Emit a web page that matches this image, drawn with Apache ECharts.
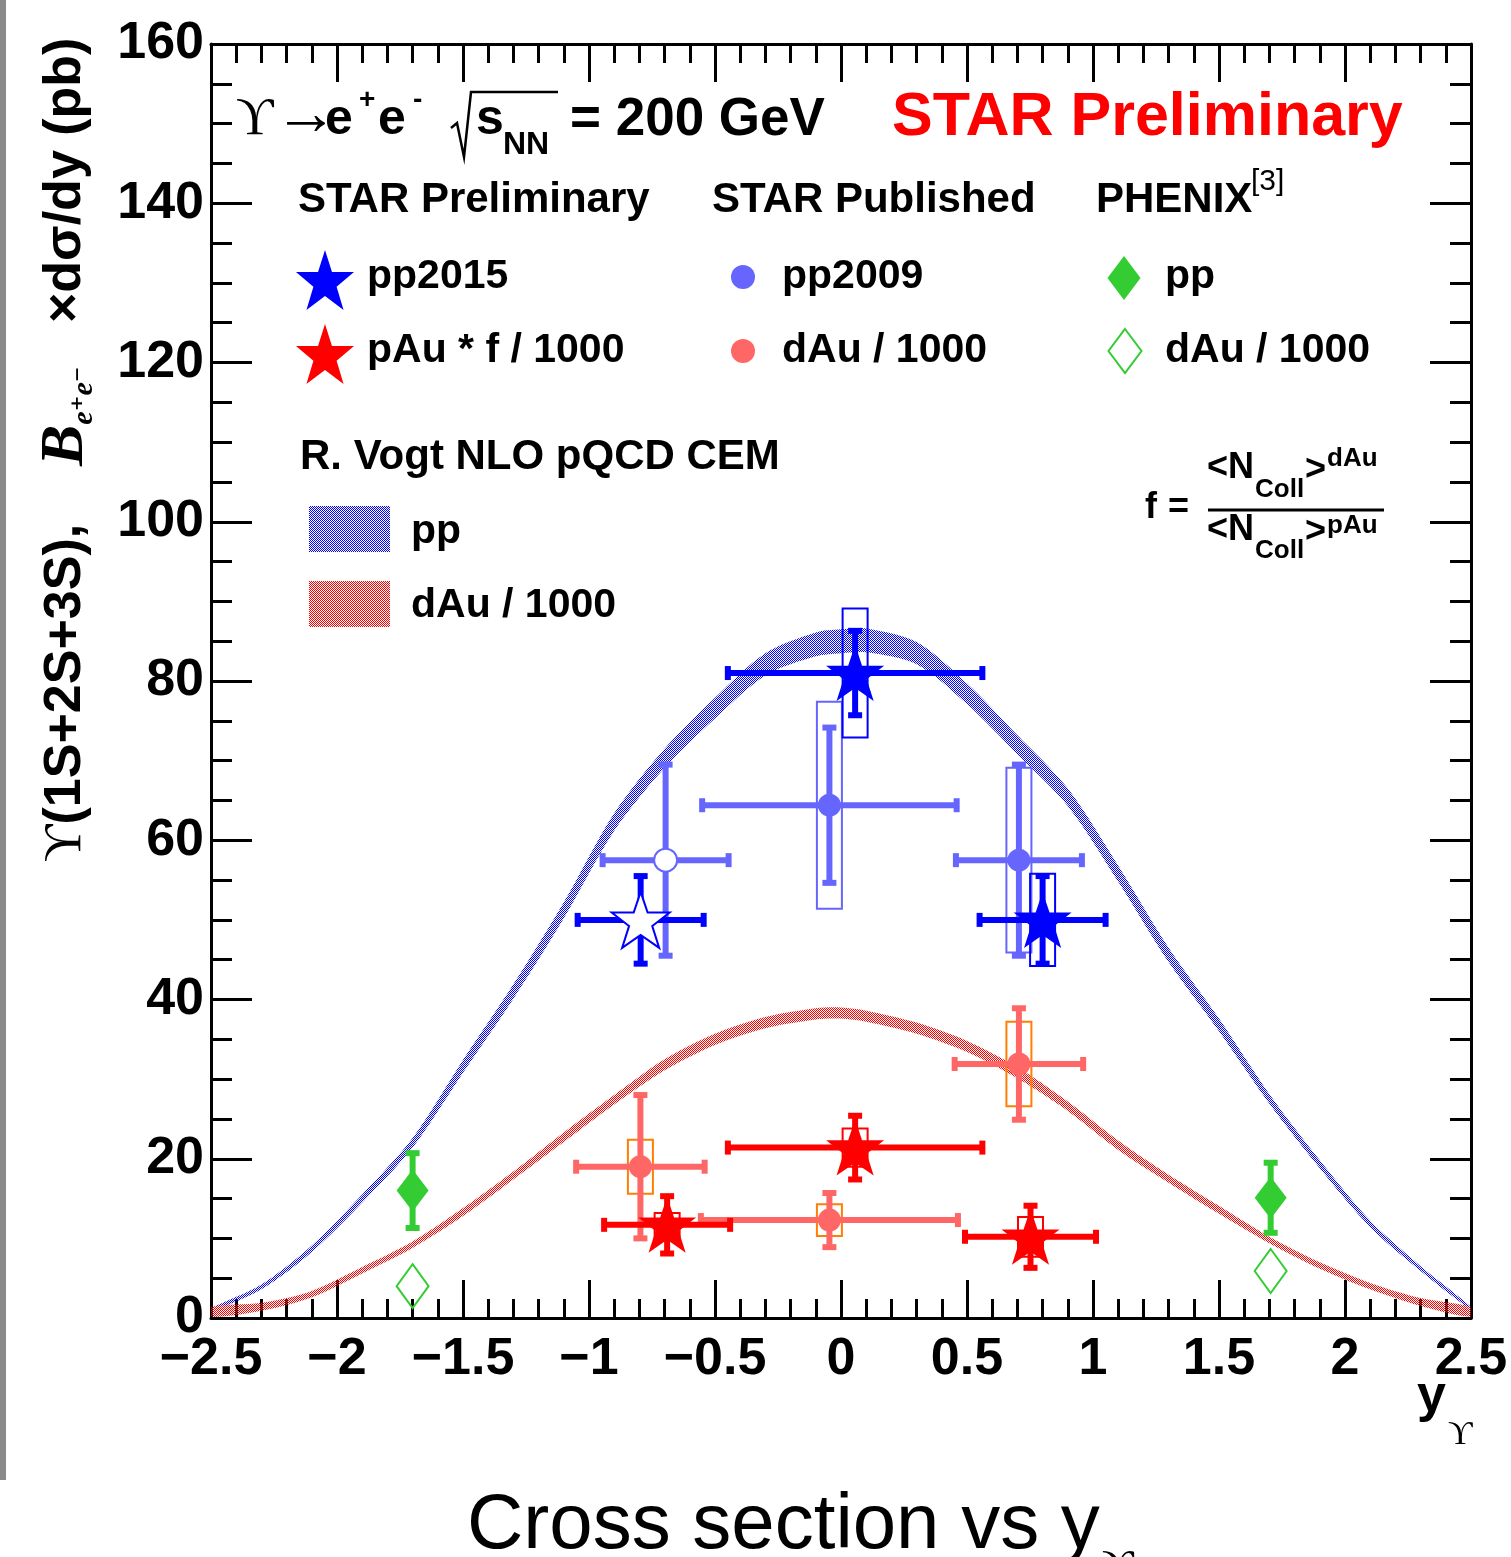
<!DOCTYPE html>
<html>
<head>
<meta charset="utf-8">
<title>Cross section vs y</title>
<script src="https://cdn.jsdelivr.net/npm/echarts@6/dist/echarts.min.js"></script>
<style>
html, body { margin: 0; padding: 0; background: #fff; }
#chart { width: 1511px; height: 1557px; }
</style>
</head>
<body>
<div id="chart"></div>
<script>
// R. Vogt NLO pQCD CEM bands (lower / upper edge)
var bandX = [-2.5, -2.3, -2.1, -1.9, -1.7, -1.5, -1.3, -1.1, -0.9, -0.7, -0.5, -0.3, -0.1, 0, 0.1, 0.3, 0.5, 0.7, 0.9, 1.1, 1.3, 1.5, 1.7, 1.9, 2.1, 2.3, 2.5];
var ppLow   = [0.8, 3.6, 8.3, 14.5, 21.4, 30.8, 40.1, 50.2, 61.2, 69.1, 75.3, 80.7, 83.1, 83.5, 83.6, 82.1, 77.1, 70.8, 64.3, 54.8, 44.7, 36.0, 26.9, 18.8, 11.4, 5.9, 1.0];
var ppHigh  = [1.2, 4.2, 9.1, 15.5, 22.6, 32.4, 41.9, 52.2, 63.4, 71.5, 77.9, 83.5, 86.1, 86.5, 86.6, 84.9, 79.7, 73.2, 66.5, 56.8, 46.5, 37.6, 28.1, 19.8, 12.2, 6.5, 1.4];
var dAuLow  = [0.15, 0.9, 2.6, 5.6, 8.8, 12.8, 17.4, 22.1, 26.8, 31.1, 34.3, 36.4, 37.5, 37.6, 37.2, 35.7, 33.4, 30.1, 26.0, 21.1, 17.0, 13.1, 9.4, 6.2, 3.6, 1.5, 0.15];
var dAuHigh = [1.35, 1.9, 3.4, 6.4, 9.6, 13.8, 18.4, 23.3, 28.0, 32.5, 35.7, 37.8, 38.9, 39.0, 38.6, 37.1, 34.8, 31.5, 27.2, 22.3, 18.0, 14.1, 10.2, 7.0, 4.4, 2.5, 1.35];

// STAR Preliminary pp2015
var pp15X = [0.056, 0.80];
var pp15Y = [81.0, 50.0];
var pp15Ex = [0.505, 0.25];
var pp15Stat = [5.3, 5.5];
var pp15Sys = [8.1, 5.8];
// pp2015 reflected point (open star)
var pp15RX = [-0.795];
var pp15RY = [50.0];
var pp15REx = [0.25];
var pp15RStat = [5.5];

// STAR Preliminary pAu * f / 1000
var pAuX = [0.056, -0.69, 0.752];
var pAuY = [21.4, 11.7, 10.2];
var pAuEx = [0.505, 0.25, 0.26];
var pAuStat = [4.0, 3.6, 3.9];
var pAuSys = [2.4, 1.5, 2.5];

// STAR Published pp2009
var pp09X = [-0.046, 0.706];
var pp09Y = [64.4, 57.5];
var pp09Ex = [0.505, 0.25];
var pp09Stat = [9.75, 12.0];
var pp09Sys = [13.0, 11.6];
// pp2009 reflected point (open circle)
var pp09RX = [-0.696];
var pp09RY = [57.5];
var pp09REx = [0.25];
var pp09RStat = [12.0];

// STAR Published dAu / 1000
var dAuX = [-0.796, -0.046, 0.706];
var dAuY = [19.0, 12.3, 31.9];
var dAuEx = [0.255, 0.51, 0.255];
var dAuStat = [9.0, 3.4, 7.0];
var dAuSys = [3.4, 2.0, 5.3];

// PHENIX
var phxPpX = [-1.70, 1.705];
var phxPpY = [16.0, 15.1];
var phxPpStat = [4.7, 4.4];
var phxDAuX = [-1.70, 1.705];
var phxDAuY = [4.0, 5.9];

var BLUE = '#0000ff', LBLUE = '#6666ff', RED = '#ff0000', LRED = '#ff6666', ORANGE = '#ff7f00', GREEN = '#33cc33';
var FONT = '"Liberation Sans", Arial, Helvetica, sans-serif';
var SERIF = '"Liberation Serif", "DejaVu Serif", serif';
var STAR_PTS = [[50, 0], [62, 35], [100, 35], [70, 58], [82, 95], [50, 73], [18, 95], [30, 58], [0, 35], [38, 35]];
var STAR = 'path://' + STAR_PTS.map(function (p, i) { return (i ? 'L' : 'M') + p[0] + ',' + p[1]; }).join(' ') + ' Z';
var DIAMOND = 'path://M50,0 L100,50 L50,100 L0,50 Z';

function hatch(color) {
    var c = document.createElement('canvas');
    c.width = 2; c.height = 2;
    var g = c.getContext('2d');
    g.fillStyle = color;
    g.fillRect(0, 0, 1, 1);
    g.fillRect(1, 1, 1, 1);
    return { image: c, repeat: 'repeat' };
}
var bluePattern = hatch(BLUE);
var redPattern = hatch(RED);

function zip() {
    var cols = Array.prototype.slice.call(arguments);
    return cols[0].map(function (v, i) {
        return cols.map(function (c) { return c[i]; });
    });
}

function bandSeries(lows, highs, pattern) {
    return {
        type: 'custom', z: 1, silent: true, clip: true,
        data: zip(bandX, lows, highs),
        encode: { x: 0, y: [1, 2] },
        renderItem: function (params, api) {
            if (params.dataIndex !== 0) return null;
            var points = [];
            for (var i = 0; i < bandX.length; i++) points.push(api.coord([bandX[i], highs[i]]));
            for (var j = bandX.length - 1; j >= 0; j--) points.push(api.coord([bandX[j], lows[j]]));
            return { type: 'polygon', shape: { points: points, smooth: 0.3 }, style: { fill: pattern } };
        }
    };
}

function lineEl(x1, y1, x2, y2, color, w) {
    return { type: 'line', shape: { x1: x1, y1: y1, x2: x2, y2: y2 }, style: { stroke: color, lineWidth: w, fill: 'transparent' } };
}

function errSeries(data, color) {
    return {
        type: 'custom', z: 3, silent: true,
        data: data,
        encode: { x: 0, y: 1 },
        renderItem: function (params, api) {
            var x = api.value(0), y = api.value(1), ex = api.value(2), ey = api.value(3);
            var c = api.coord([x, y]);
            var kids = [], w = 6, cap = 7;
            if (ex > 0) {
                var l = api.coord([x - ex, y]), r = api.coord([x + ex, y]);
                kids.push(lineEl(l[0], c[1], r[0], c[1], color, w));
                kids.push(lineEl(l[0], c[1] - cap, l[0], c[1] + cap, color, w));
                kids.push(lineEl(r[0], c[1] - cap, r[0], c[1] + cap, color, w));
            }
            if (ey > 0) {
                var t = api.coord([x, y + ey]), b = api.coord([x, y - ey]);
                kids.push(lineEl(c[0], t[1], c[0], b[1], color, w));
                kids.push(lineEl(c[0] - cap, t[1], c[0] + cap, t[1], color, w));
                kids.push(lineEl(c[0] - cap, b[1], c[0] + cap, b[1], color, w));
            }
            return { type: 'group', children: kids };
        }
    };
}

function boxSeries(data, color) {
    return {
        type: 'custom', z: 2, silent: true,
        data: data,
        encode: { x: 0, y: 1 },
        renderItem: function (params, api) {
            var x = api.value(0), y = api.value(1), e = api.value(2);
            var t = api.coord([x, y + e]), b = api.coord([x, y - e]);
            return {
                type: 'rect',
                shape: { x: t[0] - 12.5, y: t[1], width: 25, height: b[1] - t[1] },
                style: { fill: 'transparent', stroke: color, lineWidth: 2 }
            };
        }
    };
}

function markSeries(xs, ys, symbol, size, style) {
    style.opacity = 1;
    return {
        type: 'scatter', z: 4, silent: true,
        data: zip(xs, ys),
        symbol: symbol, symbolSize: size,
        itemStyle: style
    };
}

function zeros(a) { return a.map(function () { return 0; }); }

function txt(x, y, s, size, opts) {
    opts = opts || {};
    return {
        type: 'text', x: x, y: y, z: 10, silent: true,
        style: {
            text: s,
            fill: opts.color || '#000',
            font: (opts.weight || 'bold') + ' ' + size + 'px ' + (opts.family || FONT),
            align: opts.align || 'left',
            verticalAlign: 'middle'
        }
    };
}

// legend star as a polygon inside box (x, y, w, h)
function legendStar(x, y, w, h, color) {
    return {
        type: 'polygon', silent: true, z: 10,
        shape: { points: STAR_PTS.map(function (p) { return [x + p[0] * w / 100, y + p[1] * h / 95]; }) },
        style: { fill: color }
    };
}

var tickStyle = { color: '#000', width: 3 };
function xAxisDef(pos, labels) {
    return {
        type: 'value', position: pos, min: -2.5, max: 2.5, interval: 0.5,
        axisLine: { show: true, onZero: false, lineStyle: tickStyle },
        axisTick: { show: true, inside: true, length: 38, lineStyle: tickStyle },
        minorTick: { show: true, splitNumber: 5, length: 19, lineStyle: tickStyle },
        splitLine: { show: false },
        axisLabel: {
            show: labels, margin: 16, color: '#000', fontSize: 52, fontWeight: 'bold', fontFamily: FONT,
            showMinLabel: true, showMaxLabel: true,
            formatter: function (v) { return String(v).replace('-', '\u2212'); }
        }
    };
}
function yAxisDef(pos, labels) {
    return {
        type: 'value', position: pos, min: 0, max: 160, interval: 20,
        axisLine: { show: true, onZero: false, lineStyle: tickStyle },
        axisTick: { show: true, inside: true, length: 41, lineStyle: tickStyle },
        minorTick: { show: true, splitNumber: 4, length: 21, lineStyle: tickStyle },
        splitLine: { show: false },
        axisLabel: { show: labels, margin: 7, padding: [7, 0, 0, 0], color: '#000', fontSize: 52, fontWeight: 'bold', fontFamily: FONT }
    };
}

var chart = echarts.init(document.getElementById('chart'));
chart.setOption({
    animation: false,
    backgroundColor: '#fff',
    grid: { left: 211, right: 40, top: 44, bottom: 239 },
    xAxis: [xAxisDef('bottom', true), xAxisDef('top', false)],
    yAxis: [yAxisDef('left', true), yAxisDef('right', false)],
    series: [
        bandSeries(ppLow, ppHigh, bluePattern),
        bandSeries(dAuLow, dAuHigh, redPattern),

        boxSeries(zip(pp09X, pp09Y, pp09Sys), LBLUE),
        boxSeries(zip(dAuX, dAuY, dAuSys), ORANGE),
        boxSeries(zip(pp15X, pp15Y, pp15Sys), BLUE),
        boxSeries(zip(pAuX, pAuY, pAuSys), RED),

        errSeries(zip(pp09X, pp09Y, pp09Ex, pp09Stat), LBLUE),
        errSeries(zip(pp09RX, pp09RY, pp09REx, pp09RStat), LBLUE),
        errSeries(zip(dAuX, dAuY, dAuEx, dAuStat), LRED),
        errSeries(zip(phxPpX, phxPpY, zeros(phxPpX), phxPpStat), GREEN),
        errSeries(zip(pp15X, pp15Y, pp15Ex, pp15Stat), BLUE),
        errSeries(zip(pp15RX, pp15RY, pp15REx, pp15RStat), BLUE),
        errSeries(zip(pAuX, pAuY, pAuEx, pAuStat), RED),

        markSeries(pp09X, pp09Y, 'circle', 23, { color: LBLUE }),
        markSeries(pp09RX, pp09RY, 'circle', 23, { color: '#fff', borderColor: LBLUE, borderWidth: 2 }),
        markSeries(dAuX, dAuY, 'circle', 23, { color: LRED }),
        markSeries(phxPpX, phxPpY, DIAMOND, [32, 42], { color: GREEN }),
        markSeries(phxDAuX, phxDAuY, DIAMOND, [32, 44], { color: 'transparent', borderColor: GREEN, borderWidth: 2 }),
        markSeries(pp15X, pp15Y, STAR, [58, 56], { color: BLUE }),
        markSeries(pp15RX, pp15RY, STAR, [58, 56], { color: '#fff', borderColor: BLUE, borderWidth: 2 }),
        markSeries(pAuX, pAuY, STAR, [58, 56], { color: RED })
    ],
    graphic: [
        { type: 'rect', shape: { x: 0, y: 0, width: 6, height: 1480 }, style: { fill: '#8a8a8a' }, silent: true },

        // header
        txt(236, 120, '\u03d2', 52, { weight: 'normal', family: SERIF }),
        txt(274, 117, '\u2192', 64, { weight: 'normal', family: SERIF }),
        txt(325, 120, 'e', 50),
        txt(359, 100, '+', 28),
        txt(378, 120, 'e', 50),
        txt(413, 100, '-', 28),
        { type: 'polyline', silent: true, z: 10, shape: { points: [[451, 128], [457, 123], [464, 157], [471, 92], [558, 92]] }, style: { stroke: '#000', lineWidth: 2.5, fill: 'transparent' } },
        txt(476, 120, 's', 50),
        txt(503, 145, 'NN', 32),
        txt(570, 120, '= 200 GeV', 53),
        txt(892, 118, 'STAR Preliminary', 61, { color: RED }),

        // legend headers
        txt(298, 200, 'STAR Preliminary', 42),
        txt(712, 200, 'STAR Published', 42),
        txt(1096, 200, 'PHENIX', 42),
        txt(1251, 182, '[3]', 30, { weight: 'normal' }),

        // legend markers
        legendStar(296, 250, 58, 60, BLUE),
        legendStar(296, 324, 58, 60, RED),
        { type: 'circle', silent: true, z: 10, shape: { cx: 743, cy: 277, r: 12 }, style: { fill: LBLUE } },
        { type: 'circle', silent: true, z: 10, shape: { cx: 743, cy: 351, r: 12 }, style: { fill: LRED } },
        { type: 'polygon', silent: true, z: 10, shape: { points: [[1124, 256], [1140.5, 278], [1124, 300], [1107.5, 278]] }, style: { fill: GREEN } },
        { type: 'polygon', silent: true, z: 10, shape: { points: [[1125, 329], [1141.5, 351], [1125, 373], [1108.5, 351]] }, style: { fill: 'transparent', stroke: GREEN, lineWidth: 2 } },

        txt(367, 277, 'pp2015', 41),
        txt(367, 351, 'pAu * f / 1000', 41),
        txt(782, 277, 'pp2009', 41),
        txt(782, 351, 'dAu / 1000', 41),
        txt(1165, 277, 'pp', 41),
        txt(1165, 351, 'dAu / 1000', 41),

        // theory legend
        txt(300, 457, 'R. Vogt NLO pQCD CEM', 42),
        { type: 'rect', silent: true, z: 10, shape: { x: 309, y: 506, width: 81, height: 46 }, style: { fill: bluePattern } },
        { type: 'rect', silent: true, z: 10, shape: { x: 309, y: 581, width: 81, height: 46 }, style: { fill: redPattern } },
        txt(411, 532, 'pp', 41),
        txt(411, 606, 'dAu / 1000', 41),

        // f formula
        txt(1145, 508, 'f', 36),
        txt(1168, 508, '=', 36),
        txt(1207, 468, '<N', 36),
        txt(1255, 490, 'Coll', 26),
        txt(1305, 470, '>', 36),
        txt(1327, 459, 'dAu', 26),
        { type: 'line', silent: true, z: 10, shape: { x1: 1208, y1: 510, x2: 1384, y2: 510 }, style: { stroke: '#000', lineWidth: 3 } },
        txt(1207, 530, '<N', 36),
        txt(1255, 551, 'Coll', 26),
        txt(1305, 532, '>', 36),
        txt(1327, 526, 'pAu', 26),

        // y axis title
        {
            type: 'text', x: 66, y: 862, rotation: Math.PI / 2, silent: true, z: 10,
            style: {
                text: '{u|\u03d2}{b|(1S+2S+3S),    }{B|B}{s|e\u207ae\u207b}{b|   \u00d7d\u03c3/dy (pb)}',
                align: 'left', verticalAlign: 'middle',
                rich: {
                    u: { fontFamily: SERIF, fontSize: 52, lineHeight: 66, fill: '#000' },
                    b: { fontFamily: FONT, fontWeight: 'bold', fontSize: 52, lineHeight: 66, fill: '#000' },
                    B: { fontFamily: SERIF, fontStyle: 'italic', fontWeight: 'bold', fontSize: 62, lineHeight: 66, fill: '#000' },
                    s: { fontFamily: SERIF, fontStyle: 'italic', fontWeight: 'bold', fontSize: 30, lineHeight: 34, verticalAlign: 'bottom', fill: '#000' }
                }
            }
        },

        // x axis title
        txt(1417, 1397, 'y', 52),
        txt(1448, 1435, '\u03d2', 34, { weight: 'normal', family: SERIF }),

        // caption
        txt(467, 1526, 'Cross section vs y', 78, { weight: 'normal' }),
        txt(1102, 1568, '\u03d2', 44, { weight: 'normal', family: SERIF })
    ]
});
</script>
</body>
</html>
